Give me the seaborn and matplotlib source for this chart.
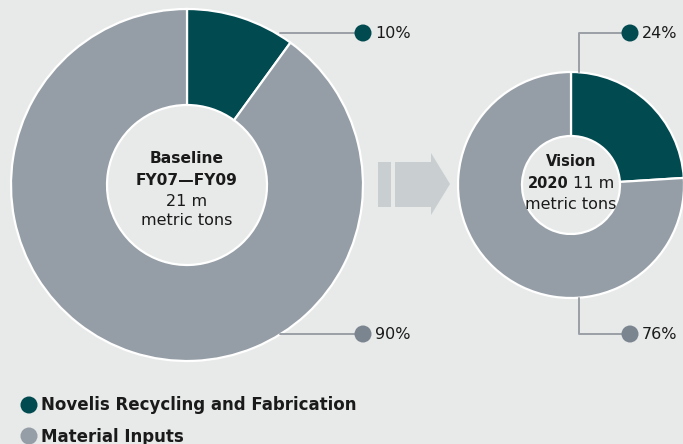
import matplotlib
matplotlib.use("Agg")
import matplotlib.pyplot as plt
import seaborn as sns
from matplotlib.patches import Polygon, Rectangle

# ---- data ----
categories = ["Novelis Recycling and Fabrication", "Material Inputs"]
baseline_values = [10, 90]
vision_values = [24, 76]
baseline_labels = ["10%", "90%"]
vision_labels = ["24%", "76%"]
colors = ["#004a50", "#959ea6"]

BG = "#e8e9e9"
sns.set_theme(style="white")
plt.rcParams["font.family"] = ["DejaVu Sans"]

W, H = 683, 444
fig = plt.figure(figsize=(W / 100, H / 100), dpi=100, facecolor=BG)
ax = fig.add_axes([0, 0, 1, 1])
ax.set_facecolor(BG)

def donut(values, center, r_out, r_in):
    # y axis is inverted below, so counterclock=True renders clockwise
    wedges, _ = ax.pie(values, colors=colors, startangle=-90, counterclock=True,
                       center=center, radius=r_out, frame=True,
                       wedgeprops=dict(width=r_out - r_in, edgecolor="white", linewidth=1.6))
    return wedges

donut(baseline_values, (187, 185), 176, 80)
donut(vision_values, (571, 185), 113, 49)
ax.set_xlim(0, W)
ax.set_ylim(H, 0)
ax.set_aspect("equal")
ax.axis("off")

# ---- arrow ----
arrow_c = "#c9ced1"
ax.add_patch(Rectangle((378, 162), 13, 45, color=arrow_c, lw=0))
ax.add_patch(Polygon([(395, 162), (431, 162), (431, 153), (450, 184),
                      (431, 215), (431, 207), (395, 207)], closed=True, color=arrow_c, lw=0))

# ---- leader lines ----
lc = "#9aa0a6"
ax.plot([280, 363], [33, 33], color=lc, lw=1.4, zorder=3)
ax.plot([280, 363], [334, 334], color=lc, lw=1.4, zorder=3)
ax.plot([579, 579, 630], [72, 33, 33], color=lc, lw=1.4, zorder=3)
ax.plot([579, 579, 630], [298, 334, 334], color=lc, lw=1.4, zorder=3)

dot_x = [363, 363, 630, 630]
dot_y = [33, 334, 33, 334]
dot_c = [colors[0], "#7a8590", colors[0], "#7a8590"]
sns.scatterplot(x=dot_x, y=dot_y, c=dot_c, s=150, linewidth=0, ax=ax, zorder=4, legend=False)

pct_kw = dict(fontsize=11.5, color="#1a1a1a", va="center", ha="left")
ax.text(375, 33.5, baseline_labels[0], **pct_kw)
ax.text(375, 334.5, baseline_labels[1], **pct_kw)
ax.text(642, 33.5, vision_labels[0], **pct_kw)
ax.text(642, 334.5, vision_labels[1], **pct_kw)

# ---- center texts ----
tc = "#1a1a1a"
ax.text(187, 158, "Baseline", fontweight="bold", fontsize=11.2, ha="center", va="center", color=tc)
ax.text(187, 180, "FY07\u2014FY09", fontweight="bold", fontsize=11.2, ha="center", va="center", color=tc)
ax.text(187, 201, "21 m", fontsize=11.5, ha="center", va="center", color=tc)
ax.text(187, 220, "metric tons", fontsize=11.5, ha="center", va="center", color=tc)

ax.text(571, 161, "Vision", fontweight="bold", fontsize=10.5, ha="center", va="center", color=tc)
ax.text(571, 204, "metric tons", fontsize=11.5, ha="center", va="center", color=tc)
fig.canvas.draw()
r = fig.canvas.get_renderer()
t1 = ax.text(0, 183, "2020", fontweight="bold", ha="left", va="center", color=tc, fontsize=10.5)
t2 = ax.text(0, 183, "11 m", ha="left", va="center", color=tc, fontsize=11.5)
w1 = t1.get_window_extent(r).width
w2 = t2.get_window_extent(r).width
gap = 5
total = w1 + gap + w2
x0 = 571 - total / 2
t1.set_x(x0)
t2.set_x(x0 + w1 + gap)

# ---- legend ----
sns.scatterplot(x=[29, 29], y=[405, 436], c=colors, s=150, linewidth=0, ax=ax, legend=False, zorder=4)
ax.text(41, 405.5, categories[0], fontsize=12, fontweight="bold", va="center", ha="left", color=tc)
ax.text(41, 436.5, categories[1], fontsize=12, fontweight="bold", va="center", ha="left", color=tc)

ax.set_xlim(0, W)
ax.set_ylim(H, 0)
fig.savefig("out.png", dpi=100, facecolor=BG)
